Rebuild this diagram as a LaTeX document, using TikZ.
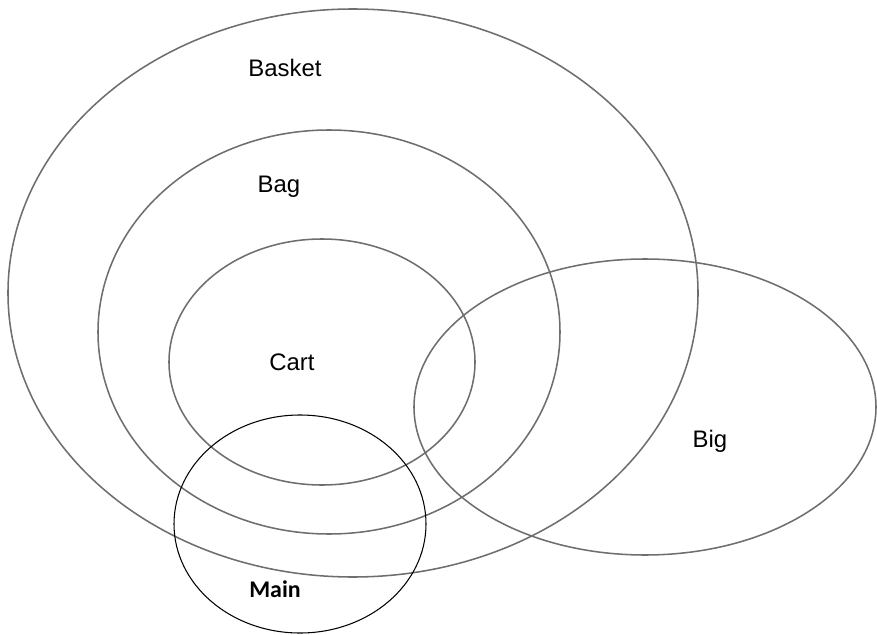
\documentclass[tikz,border=0pt]{standalone}
\usepackage{fontspec}
\setmainfont{Liberation Sans}
\newfontfamily\mainlabelfont{Carlito}
\usepackage{xcolor}
\definecolor{setgray}{HTML}{6E6E6E}
\tikzset{
    setline/.style={draw=setgray, line width=1.1pt},
    setlabel/.style={font=\fontsize{17}{20}\selectfont, text=black},
}

\begin{document}
\begin{tikzpicture}

    \useasboundingbox (0,0) rectangle (21.925,-15.875);

    % Basket (outer set)
    \draw[setline] (8.825,-7.325) ellipse (8.625 and 7.1);
    \node[setlabel] (basket) at (7.125,-1.7) {Basket};

    % Bag
    \draw[setline] (8.225,-8.3) ellipse (5.775 and 5.05);
    \node[setlabel] (bag) at (6.975,-4.675) {Bag};

    % Cart (innermost set)
    \draw[setline] (8.05,-9.05) ellipse (3.825 and 3.075);
    \node[setlabel] (cart) at (7.3,-9.05) {Cart};

    % Big
    \draw[setline] (16.125,-10.175) ellipse (5.775 and 3.7);
    \node[setlabel] (big) at (17.75,-11.025) {Big};

    % Main
    \draw[black, line width=0.75pt] (7.5,-13.1) ellipse (3.15 and 2.725);
    \node[font=\mainlabelfont\bfseries\fontsize{17}{20}\selectfont] (main) at (6.875,-14.725) {Main};

\end{tikzpicture}
\end{document}
